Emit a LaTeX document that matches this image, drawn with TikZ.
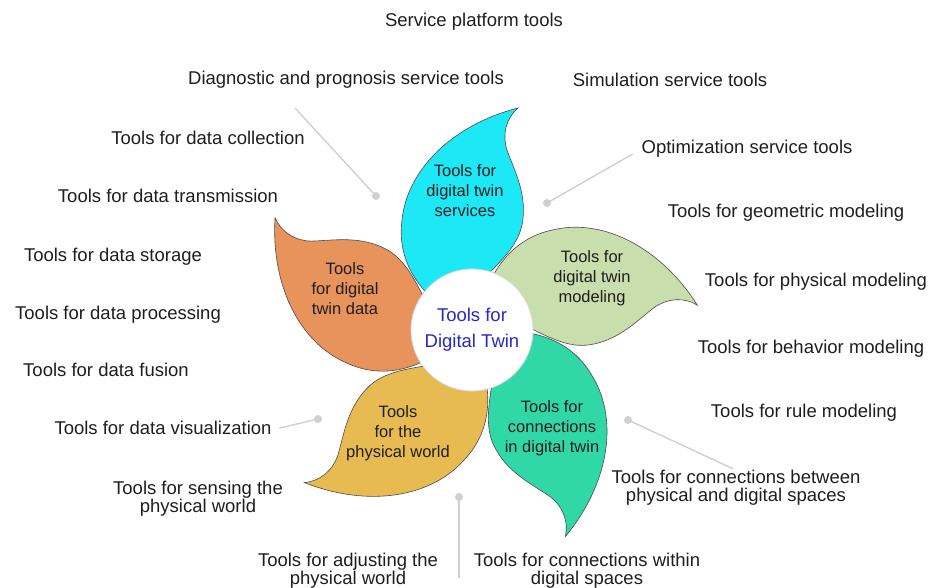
\documentclass[tikz,border=0pt]{standalone}
\usepackage{fontspec}
\setmainfont{Liberation Sans}
\usetikzlibrary{positioning}

\definecolor{petalcyan}{RGB}{28,232,246}
\definecolor{petalgreen}{RGB}{200,222,172}
\definecolor{petalteal}{RGB}{48,216,168}
\definecolor{petalyellow}{RGB}{232,186,82}
\definecolor{petalorange}{RGB}{232,146,92}
\definecolor{hubblue}{RGB}{40,40,200}
\definecolor{leadergray}{RGB}{208,208,208}
\definecolor{textdark}{RGB}{30,30,30}

\tikzset{
    tool/.style={font=\fontsize{18.5}{17.5}\selectfont, text=textdark, align=center, inner sep=0pt, text depth=4.5pt},
    leaftext/.style={font=\fontsize{16.5}{20}\selectfont, text=textdark, align=center, inner sep=0pt, text depth=4pt},
    hub/.style={circle, fill=white, draw=black!15, line width=0.8pt, minimum size=122pt, inner sep=0pt,
        font=\fontsize{18.5}{26}\selectfont, text=hubblue, align=center},
    leader/.style={leadergray, line width=1.4pt},
    leaderdot/.style={circle, fill=leadergray, inner sep=0pt, minimum size=8pt},
    petalline/.style={draw=black!70, line width=0.6pt},
    pics/petal/.style={code={
        \draw[petalline, fill=#1] (-20,15) .. controls (-55,40) and (-75,70) .. (-70,110)
            .. controls (-65,160) and (-20,205) .. (46,222)
            .. controls (34,212) and (30,195) .. (35,180)
            .. controls (42,160) and (56,135) .. (50,105)
            .. controls (45,82) and (25,65) .. (0,40) -- cycle;
    }}
}

\begin{document}
\begin{tikzpicture}[x=1pt, y=1pt]
    \useasboundingbox (0,0) rectangle (931,-588);
    \coordinate (c) at (472,-330);

    % petals
    \pic at (c) {petal=petalcyan};
    \pic[rotate=-72] at (c) {petal=petalgreen};
    \pic[rotate=-144] at (c) {petal=petalteal};
    \pic[rotate=-216] at (c) {petal=petalyellow};
    \pic[rotate=72] at (c) {petal=petalorange};

    \node[hub] (hub) at (c) {Tools for\\Digital Twin};

    % petal texts
    \node[leaftext] (services) at (465,-193) {Tools for\\digital twin\\services};
    \node[leaftext] (modeling) at (592,-279) {Tools for\\digital twin\\modeling};
    \node[leaftext] (connections) at (552,-429) {Tools for\\connections\\in digital twin};
    \node[leaftext] (world) at (398,-434) {Tools\\for the\\physical world};
    \node[leaftext] (data) at (345,-291) {Tools\\for digital\\twin data};

    % tool labels
    \node[tool] (platform) at (474,-22) {Service platform tools};
    \node[tool] (diagnostic) at (346,-80) {Diagnostic and prognosis service tools};
    \node[tool] (simulation) at (670,-82) {Simulation service tools};
    \node[tool] (collection) at (208,-140) {Tools for data collection};
    \node[tool] (optimization) at (747,-149) {Optimization service tools};
    \node[tool] (transmission) at (168,-198) {Tools for data transmission};
    \node[tool] (geometric) at (786,-213) {Tools for geometric modeling};
    \node[tool] (storage) at (113,-257) {Tools for data storage};
    \node[tool] (physical) at (816,-282) {Tools for physical modeling};
    \node[tool] (processing) at (118,-315) {Tools for data processing};
    \node[tool] (behavior) at (811,-349) {Tools for behavior modeling};
    \node[tool] (fusion) at (106,-372) {Tools for data fusion};
    \node[tool] (rule) at (804,-413) {Tools for rule modeling};
    \node[tool] (visualization) at (163,-430) {Tools for data visualization};
    \node[tool] (between) at (736,-488) {Tools for connections between\\physical and digital spaces};
    \node[tool] (sensing) at (198,-499) {Tools for sensing the\\physical world};
    \node[tool] (adjusting) at (348,-571) {Tools for adjusting the\\physical world};
    \node[tool] (within) at (587,-571) {Tools for connections within\\digital spaces};

    % leaders
    \node[leaderdot] (d1) at (376,-196) {};
    \node[leaderdot] (d2) at (547,-203) {};
    \node[leaderdot] (d3) at (318,-419) {};
    \node[leaderdot] (d4) at (628,-420) {};
    \node[leaderdot] (d5) at (459,-497) {};
    \coordinate (l1) at (295,-108);
    \coordinate (l5) at (459,-578);
    \draw[leader] (l1) -- (d1.center);
    \draw[leader, shorten <=10pt] (optimization.west) -- (d2.center);
    \draw[leader, shorten <=8pt] (visualization.east) -- (d3.center);
    \draw[leader, shorten <=3pt] (between.north) -- (d4.center);
    \draw[leader] (l5) -- (d5.center);
\end{tikzpicture}
\end{document}
